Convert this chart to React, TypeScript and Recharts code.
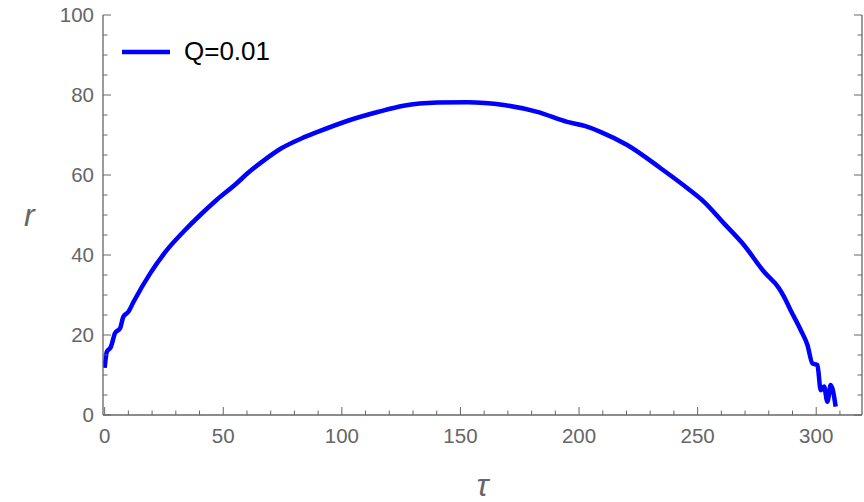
import React from "react";
import { LineChart, Line, XAxis, YAxis, Legend } from "recharts";

// values
const tauValues = [
  0, 0.9, 2.6, 4.4, 6.5, 7.9, 10, 12.2, 19.2, 26.2, 33.2, 40.3, 47.3, 55.8,
  60, 67, 74, 83.2, 89.5, 102.2, 115.5, 126, 140.2, 152.8, 168.3, 182.4, 195,
  202.7, 209, 220.3, 234.4, 245.7, 252.7, 261.1, 269.5, 278, 284.3, 286.4,
  289.2, 293.5, 296.3, 298.4, 300.5, 301.9, 303.3, 304.7, 306.1, 308.2,
];
const rValues = [
  11.8, 15.8, 17, 20.5, 21.7, 24.6, 25.8, 28.3, 35.4, 41.2, 45.8, 50, 53.8,
  58, 60.3, 63.6, 66.5, 69.2, 70.7, 73.5, 75.8, 77.3, 78.1, 78.2, 77.5,
  75.8, 73.3, 72.2, 70.8, 67.5, 61.7, 56.7, 53.3, 47.9, 42.5, 35.8, 31.7,
  29.6, 26.2, 21.2, 17.5, 12.9, 12.5, 6.2, 7.1, 3.3, 7.5, 2.1,
];
const xTicks = [
  0, 10, 20, 30, 40, 50, 60, 70, 80, 90, 100, 110, 120, 130, 140, 150, 160,
  170, 180, 190, 200, 210, 220, 230, 240, 250, 260, 270, 280, 290, 300, 310,
];
const yTicks = [
  0, 5, 10, 15, 20, 25, 30, 35, 40, 45, 50, 55, 60, 65, 70, 75, 80, 85, 90,
  95, 100,
];
const seriesName = "Q=0.01";

const data = tauValues.map((t, i) => ({ tau: t, r: rValues[i] }));

const GRAY = "#666666";
const FONT = "'Liberation Sans', Arial, sans-serif";
const X_DOMAIN: [number, number] = [-0.7, 319.3];
const Y_DOMAIN: [number, number] = [0, 100];

const BottomTick = (props: any) => {
  const { x, y, payload } = props;
  const major = payload.value % 50 === 0;
  return (
    <g>
      <line x1={x} x2={x} y1={y} y2={y - (major ? 8 : 4.5)} stroke={GRAY} strokeWidth={1} />
      {major && (
        <text x={x} y={y + 28} textAnchor="middle" fill={GRAY} fontSize={20.5} fontFamily={FONT}>
          {payload.value}
        </text>
      )}
    </g>
  );
};

const TopTick = (props: any) => {
  const { x, y, payload } = props;
  const major = payload.value % 50 === 0;
  return <line x1={x} x2={x} y1={y} y2={y + (major ? 8 : 4.5)} stroke={GRAY} strokeWidth={1} />;
};

const LeftTick = (props: any) => {
  const { x, y, payload } = props;
  const major = payload.value % 20 === 0;
  return (
    <g>
      <line x1={x} x2={x + (major ? 8 : 4.5)} y1={y} y2={y} stroke={GRAY} strokeWidth={1} />
      {major && (
        <text x={x - 9} y={y + 7} textAnchor="end" fill={GRAY} fontSize={20.5} fontFamily={FONT}>
          {payload.value}
        </text>
      )}
    </g>
  );
};

const RightTick = (props: any) => {
  const { x, y, payload } = props;
  const major = payload.value % 20 === 0;
  return <line x1={x} x2={x - (major ? 8 : 4.5)} y1={y} y2={y} stroke={GRAY} strokeWidth={1} />;
};

const renderLegend = () => (
  <div style={{ display: "flex", alignItems: "center", fontFamily: FONT }}>
    <svg width={48} height={8}>
      <line x1={0} x2={48} y1={4} y2={4} stroke="#0000ff" strokeWidth={4.5} />
    </svg>
    <span style={{ marginLeft: 14, fontSize: 26, color: "#000" }}>{seriesName}</span>
  </div>
);

export default function App() {
  return (
    <div style={{ position: "absolute", left: 0, top: 0, background: "#fff" }}>
      <LineChart width={864} height={502} data={data} margin={{ top: 15, right: 1, bottom: 0, left: 0 }}>
        <XAxis
          xAxisId="main"
          dataKey="tau"
          type="number"
          domain={X_DOMAIN}
          allowDataOverflow
          ticks={xTicks}
          interval={0}
          height={87}
          tickSize={0}
          tickMargin={0}
          tickLine={false}
          axisLine={{ stroke: GRAY, strokeWidth: 1.3 }}
          tick={<BottomTick />}
          label={{ value: "τ", position: "insideBottom", offset: 6, fill: GRAY, fontSize: 32, fontStyle: "italic", fontFamily: FONT }}
        />
        <XAxis
          xAxisId="top"
          orientation="top"
          type="number"
          domain={X_DOMAIN}
          allowDataOverflow
          ticks={xTicks}
          interval={0}
          height={0}
          tickSize={0}
          tickMargin={0}
          tickLine={false}
          axisLine={{ stroke: GRAY, strokeWidth: 1.3 }}
          tick={<TopTick />}
        />
        <YAxis
          yAxisId="main"
          type="number"
          domain={Y_DOMAIN}
          allowDataOverflow
          ticks={yTicks}
          interval={0}
          width={103}
          tickSize={0}
          tickMargin={0}
          tickLine={false}
          axisLine={{ stroke: GRAY, strokeWidth: 1.3 }}
          tick={<LeftTick />}
          label={{ value: "r", position: "insideLeft", offset: 24, fill: GRAY, fontSize: 32, fontStyle: "italic", fontFamily: FONT }}
        />
        <YAxis
          yAxisId="right"
          orientation="right"
          type="number"
          domain={Y_DOMAIN}
          allowDataOverflow
          ticks={yTicks}
          interval={0}
          width={1}
          tickSize={0}
          tickMargin={0}
          tickLine={false}
          axisLine={{ stroke: GRAY, strokeWidth: 1.3 }}
          tick={<RightTick />}
        />
        <Legend
          layout="horizontal"
          verticalAlign="middle"
          align="center"
          content={renderLegend}
          wrapperStyle={{ left: 122, top: 36, width: "auto" }}
        />
        <Line
          xAxisId="main"
          yAxisId="main"
          type="monotone"
          dataKey="r"
          name={seriesName}
          stroke="#0000ff"
          strokeWidth={4.5}
          strokeLinejoin="round"
          dot={false}
          isAnimationActive={false}
        />
      </LineChart>
    </div>
  );
}
